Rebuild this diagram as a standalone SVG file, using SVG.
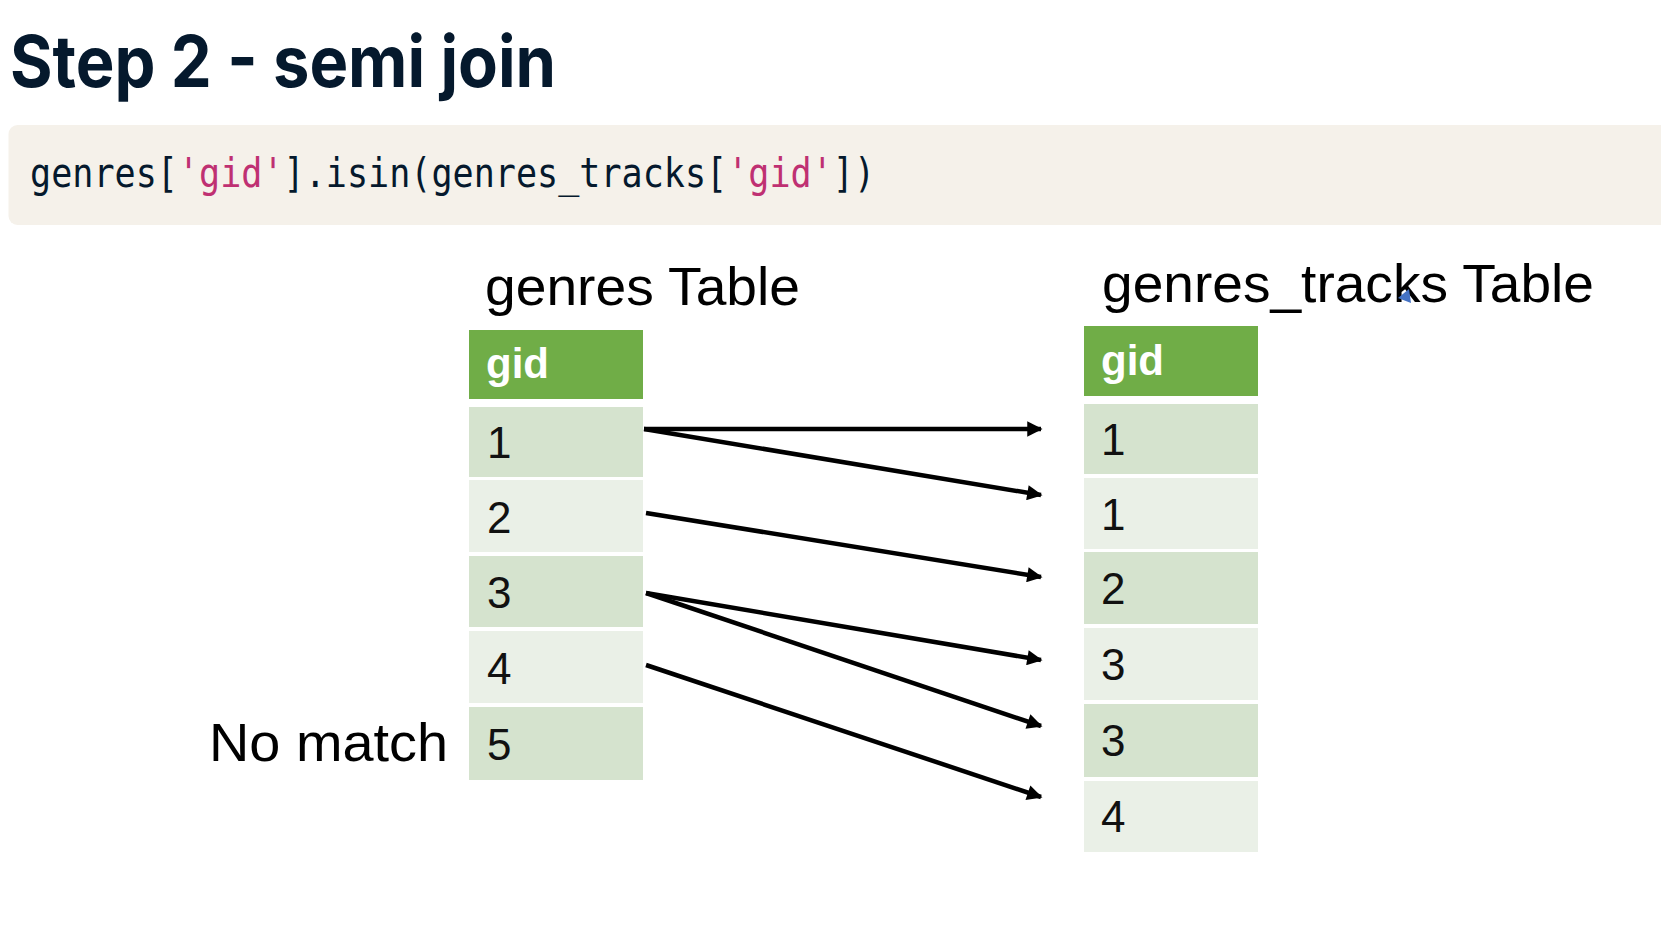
<svg xmlns="http://www.w3.org/2000/svg" width="1661" height="950" viewBox="0 0 1661 950">
<style>
.title{font-family:Inter,"Liberation Sans",sans-serif;font-weight:700;font-size:71px;fill:#05192D}
.code{font-family:"DejaVu Sans Mono","Liberation Mono",monospace;font-size:35.1px;fill:#05192D}
.str{fill:#BF3072}
.lbl{font-family:"Liberation Sans",Arial,sans-serif;font-size:53px;fill:#000}
.hdr{fill:#70AD47}
.hdrt{font-family:"Liberation Sans",Arial,sans-serif;font-weight:700;font-size:42px;fill:#fff}
.dark{fill:#D5E3CE}
.light{fill:#EAF0E7}
.num{font-family:"Liberation Sans",Arial,sans-serif;font-size:44px;fill:#111}
.conn line{stroke:#000;stroke-width:4.5;marker-end:url(#ah)}
</style>
<defs>
<marker id="ah" viewBox="0 0 10 10" refX="9" refY="5" markerWidth="4" markerHeight="3.4" orient="auto" markerUnits="strokeWidth">
<path d="M0,0 L10,5 L0,10 Z" fill="#000"/>
</marker>
</defs>
<rect width="1661" height="950" fill="#fff"/>
<text class="title" x="10" y="87" textLength="546" lengthAdjust="spacingAndGlyphs">Step 2 - semi join</text>
<rect x="8.5" y="125" width="1680" height="100" rx="9" fill="#F5F1EA"/>
<g id="code" transform="translate(30,187) scale(1,1.15)">
<text class="code" x="0" y="0">genres[<tspan class="str">'gid'</tspan>].isin(genres_tracks[<tspan class="str">'gid'</tspan>])</text>
</g>

<g id="genres-table">
<text class="lbl" x="485" y="305" textLength="315" lengthAdjust="spacingAndGlyphs">genres Table</text>
<rect class="hdr" x="469" y="330" width="174" height="69"/>
<text class="hdrt" x="486" y="378">gid</text>
<rect class="dark" x="469" y="407" width="174" height="70"/>
<text class="num" x="487" y="458">1</text>
<rect class="light" x="469" y="480" width="174" height="72"/>
<text class="num" x="487" y="533">2</text>
<rect class="dark" x="469" y="556" width="174" height="71"/>
<text class="num" x="487" y="608">3</text>
<rect class="light" x="469" y="631" width="174" height="72"/>
<text class="num" x="487" y="684">4</text>
<rect class="dark" x="469" y="707" width="174" height="73"/>
<text class="num" x="487" y="760">5</text>
</g>

<g id="no-match">
<text class="lbl" x="209" y="761" textLength="239" lengthAdjust="spacingAndGlyphs">No match</text>
</g>

<g id="genres-tracks-table">
<text class="lbl" x="1102" y="302" textLength="492" lengthAdjust="spacingAndGlyphs">genres_tracks Table</text>
<polygon points="1398,298 1409,289 1411,303" fill="#4472C4"/>
<rect class="hdr" x="1084" y="326" width="174" height="70"/>
<text class="hdrt" x="1101" y="375">gid</text>
<rect class="dark" x="1084" y="404" width="174" height="70"/>
<text class="num" x="1101" y="455">1</text>
<rect class="light" x="1084" y="478" width="174" height="71"/>
<text class="num" x="1101" y="530">1</text>
<rect class="dark" x="1084" y="552" width="174" height="72"/>
<text class="num" x="1101" y="604">2</text>
<rect class="light" x="1084" y="628" width="174" height="72"/>
<text class="num" x="1101" y="680">3</text>
<rect class="dark" x="1084" y="704" width="174" height="73"/>
<text class="num" x="1101" y="756">3</text>
<rect class="light" x="1084" y="781" width="174" height="71"/>
<text class="num" x="1101" y="832">4</text>
</g>

<g id="connectors" class="conn">
<line x1="644" y1="429" x2="1041" y2="429"/>
<line x1="644" y1="429" x2="1041" y2="495"/>
<line x1="646" y1="513" x2="1041" y2="577"/>
<line x1="646" y1="593" x2="1041" y2="660"/>
<line x1="646" y1="593" x2="1041" y2="726"/>
<line x1="646" y1="665" x2="1041" y2="797"/>
</g>
</svg>
